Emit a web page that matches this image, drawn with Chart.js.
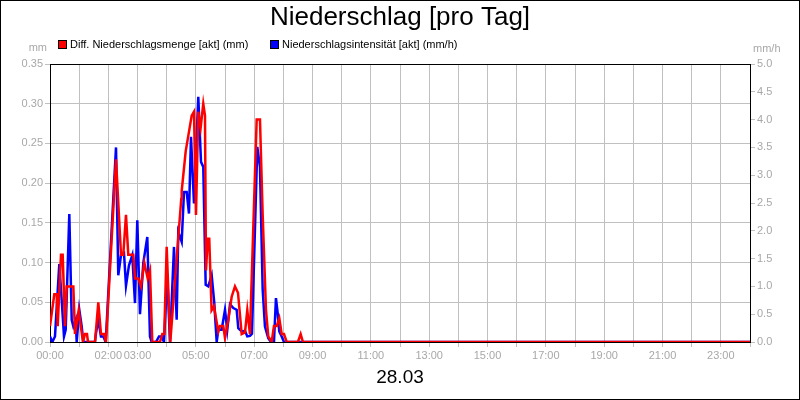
<!DOCTYPE html>
<html>
<head>
<meta charset="utf-8">
<script src="https://cdn.jsdelivr.net/npm/chart.js@4.4.1/dist/chart.umd.min.js"></script>
<style>
html,body{margin:0;padding:0;background:#fff;}
canvas{display:block;}
</style>
</head>
<body>
<canvas id="c" width="800" height="400"></canvas>
<script>
// ---- Data (time in hours of day) ----
const chartTitle = "Niederschlag [pro Tag]";
const dateLabel = "28.03";
const seriesNames = ["Diff. Niederschlagsmenge [akt] (mm)", "Niederschlagsintensität [akt] (mm/h)"];
const leftUnit = "mm";
const rightUnit = "mm/h";
const hourLabels = {0:"00:00",2:"02:00",3:"03:00",5:"05:00",7:"07:00",9:"09:00",11:"11:00",13:"13:00",15:"15:00",17:"17:00",19:"19:00",21:"21:00",23:"23:00"};

const mengeTimes = [0.00,0.147,0.23,0.264,0.377,0.435,0.514,0.572,0.80,0.857,0.984,1.131,1.20,1.268,1.303,1.543,1.656,1.748,1.851,1.92,2.263,2.434,2.513,2.605,2.684,2.856,2.914,3.027,3.12,3.233,3.349,3.428,3.507,3.771,3.85,3.918,4.0,4.124,4.50,4.515,4.652,4.858,4.937,5.005,5.084,5.166,5.255,5.314,5.348,5.41,5.46,5.54,5.622,5.77,5.828,5.941,6.0,6.113,6.229,6.342,6.445,6.572,6.685,6.764,6.856,7.086,7.199,7.292,7.405,7.484,7.60,7.679,7.772,7.861,7.943,8.022,8.115,8.50,8.594,8.673,24.0];
const mengeValues = [0.02,0.06,0.06,0.02,0.11,0.11,0.02,0.07,0.07,0.01,0.04,0.00,0.01,0.01,0.00,0.00,0.05,0.01,0.01,0.00,0.23,0.11,0.11,0.16,0.11,0.11,0.08,0.08,0.07,0.10,0.08,0.09,0.00,0.00,0.01,0.01,0.12,0.00,0.18,0.19,0.24,0.285,0.29,0.16,0.29,0.27,0.30,0.285,0.09,0.13,0.13,0.04,0.045,0.013,0.02,0.02,0.005,0.028,0.057,0.07,0.062,0.01,0.012,0.04,0.01,0.28,0.28,0.16,0.04,0.007,0.00,0.02,0.02,0.03,0.01,0.01,0.00,0.00,0.01,0.00,0.00];

const intensTimes = [0.00,0.079,0.171,0.319,0.40,0.48,0.538,0.662,0.744,0.80,0.881,0.915,1.004,1.087,1.142,1.54,1.577,1.656,1.748,1.83,1.91,2.263,2.341,2.434,2.537,2.605,2.708,2.821,2.914,2.993,3.085,3.198,3.336,3.428,3.486,3.634,3.737,3.829,3.908,4.021,4.113,4.251,4.343,4.398,4.515,4.594,4.686,4.765,4.834,4.937,5.084,5.177,5.255,5.338,5.427,5.543,5.633,5.715,5.77,5.886,6.0,6.078,6.171,6.285,6.40,6.455,6.572,6.685,6.764,6.856,6.925,7.107,7.199,7.292,7.37,7.484,7.576,7.679,7.747,7.806,7.861,7.943,8.022,24.0];
const intensValues = [0.1,0.0,0.1,1.4,0.76,0.1,0.22,2.3,0.4,0.28,0.4,0.0,0.58,0.28,0.0,0.0,0.16,0.4,0.1,0.1,0.0,3.5,1.2,1.56,1.6,1.01,1.38,1.56,0.7,2.19,0.5,1.42,1.89,0.1,0.0,0.0,0.1,0.1,0.0,1.2,0.0,1.71,0.4,1.98,1.8,2.7,2.7,2.31,3.69,2.49,4.41,3.24,3.15,1.03,1.0,1.2,0.7,0.0,0.22,0.22,0.58,0.22,0.68,0.61,0.58,0.25,0.19,0.2,0.1,0.11,0.15,3.51,3.15,0.94,0.28,0.07,0.0,0.0,0.79,0.52,0.19,0.1,0.0,0.0];

const seriesColors = ["#ff0000", "#0000ff"];

const mengeData = mengeTimes.map((t,i)=>({x:t,y:mengeValues[i]}));
const intensData = intensTimes.map((t,i)=>({x:t,y:intensValues[i]}));

const GRID = "#c0c0c0";
const TICKTXT = "#a8a8a8";
const FONT = "Arial, 'Liberation Sans', sans-serif";

const decorPlugin = {
  id: 'decor',
  beforeDatasetsDraw(chart) {
    const ctx = chart.ctx;
    const a = chart.chartArea;
    ctx.save();
    ctx.strokeStyle = "#000";
    ctx.lineWidth = 1;
    ctx.strokeRect(Math.round(a.left)+0.5, Math.round(a.top)+0.5, Math.round(a.right-a.left), Math.round(a.bottom-a.top));
    ctx.restore();
  },
  afterDraw(chart) {
    const ctx = chart.ctx;
    ctx.save();
    ctx.strokeStyle = "#000";
    ctx.lineWidth = 1;
    // outer frame
    ctx.strokeRect(0.5, 0.5, 799, 399);
    // title
    ctx.fillStyle = "#000";
    ctx.textAlign = "center";
    ctx.textBaseline = "middle";
    ctx.font = "26px " + FONT;
    ctx.fillText(chartTitle, 400, 18);
    // date
    ctx.font = "19px " + FONT;
    ctx.fillText(dateLabel, 400, 378);
    // units
    ctx.fillStyle = TICKTXT;
    ctx.font = "11px " + FONT;
    ctx.textAlign = "right";
    ctx.fillText(leftUnit, 47, 48);
    ctx.textAlign = "left";
    ctx.fillText(rightUnit, 753, 49);
    // legend
    const items = [[58, seriesNames[0], seriesColors[0]], [270, seriesNames[1], seriesColors[1]]];
    ctx.font = "11px " + FONT;
    for (const [x, name, col] of items) {
      ctx.fillStyle = col;
      ctx.fillRect(x, 40, 8, 8);
      ctx.strokeStyle = "#000";
      ctx.strokeRect(x+0.5, 40.5, 8, 8);
      ctx.fillStyle = "#000";
      ctx.textAlign = "left";
      ctx.fillText(name, x + 12, 45);
    }
    ctx.restore();
  }
};

new Chart(document.getElementById('c'), {
  type: 'line',
  data: {
    datasets: [
      { label: seriesNames[0], data: mengeData, yAxisID: 'yL', order: 0, borderColor: seriesColors[0], backgroundColor: seriesColors[0], borderWidth: 2.5, pointRadius: 0, tension: 0, fill: false },
      { label: seriesNames[1], data: intensData, yAxisID: 'yR', order: 1, borderColor: seriesColors[1], backgroundColor: seriesColors[1], borderWidth: 2.5, pointRadius: 0, tension: 0, fill: false, clip: 0 }
    ]
  },
  options: {
    responsive: false,
    animation: false,
    devicePixelRatio: 1,
    layout: { padding: { left: 0, right: 0, top: 64, bottom: 38 } },
    plugins: { legend: { display: false }, title: { display: false }, tooltip: { enabled: false } },
    scales: {
      x: {
        type: 'linear', min: 0, max: 24,
        afterFit(s) { s.height = 20; },
        grid: { color: GRID, tickColor: GRID, tickLength: 5, drawOnChartArea: true },
        border: { display: false },
        ticks: {
          stepSize: 1, autoSkip: false, maxRotation: 0, minRotation: 0, padding: 2,
          color: TICKTXT, font: { family: FONT, size: 11 },
          callback: (v) => hourLabels[v] !== undefined ? hourLabels[v] : ''
        }
      },
      yL: {
        type: 'linear', position: 'left', min: 0, max: 0.35,
        afterFit(s) { s.width = 50; },
        grid: { color: GRID, tickColor: GRID, tickLength: 5 },
        border: { display: false },
        ticks: { stepSize: 0.05, color: TICKTXT, padding: 2, font: { family: FONT, size: 11 }, callback: v => v.toFixed(2) }
      },
      yR: {
        type: 'linear', position: 'right', min: 0, max: 5,
        afterFit(s) { s.width = 50; },
        grid: { drawOnChartArea: false, color: GRID, tickColor: GRID, tickLength: 5 },
        border: { display: false },
        ticks: { stepSize: 0.5, color: TICKTXT, padding: 2, font: { family: FONT, size: 11 }, callback: v => v.toFixed(1) }
      }
    }
  },
  plugins: [decorPlugin]
});
</script>
</body>
</html>
